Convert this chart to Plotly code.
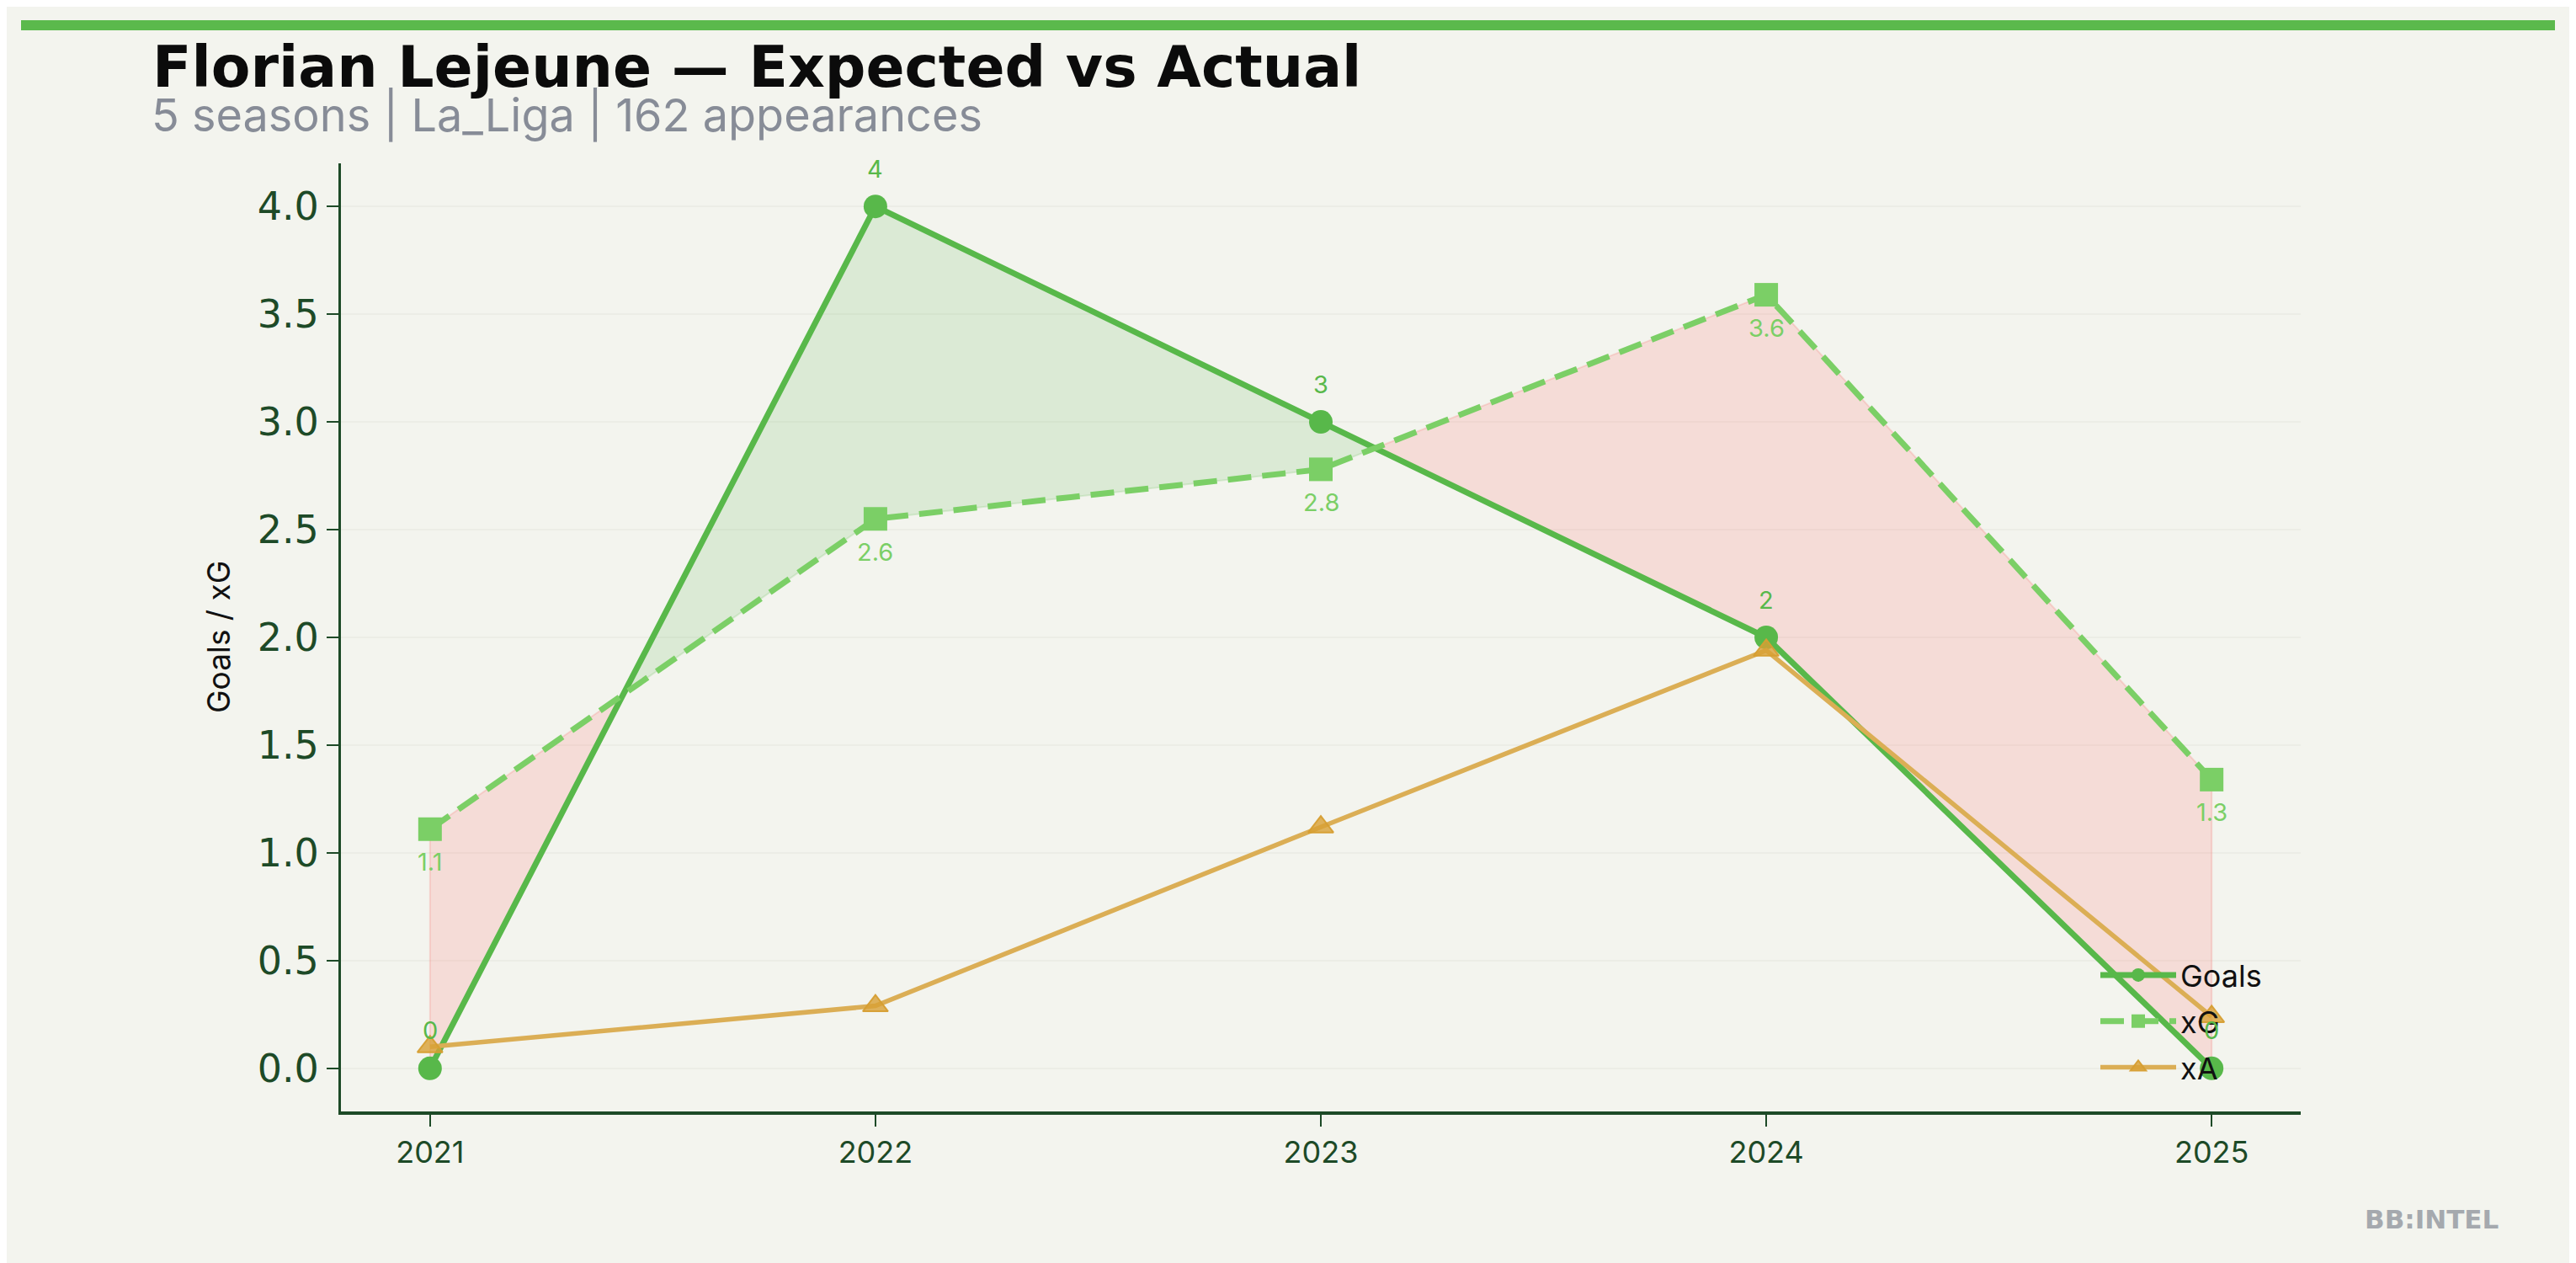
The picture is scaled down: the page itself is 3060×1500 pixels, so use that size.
import plotly.graph_objects as go

# ---- data ----
seasons = [2021, 2022, 2023, 2024, 2025]
goals = [0, 4, 3, 2, 0]
xg = [1.11, 2.55, 2.78, 3.59, 1.34]
xa = [0.10, 0.29, 1.12, 1.94, 0.24]
goal_labels = ["0", "4", "3", "2", "0"]
xg_labels = ["1.1", "2.6", "2.8", "3.6", "1.3"]

title = "Florian Lejeune — Expected vs Actual"
subtitle = "5 seasons | La_Liga | 162 appearances"
y_title = "Goals / xG"
watermark = "BB:INTEL"

# ---- style ----
OFF = 8  # page body margin
W_FIG, H_FIG = 3060 - OFF, 1500 - OFF
PL, PR, PT, PB = 405, 2733, 194, 1320  # plot area in page pixels
L, T = PL - OFF, PT - OFF
R, B = W_FIG - (PR - OFF), H_FIG - (PB - OFF)
PW, PH = PR - PL, PB - PT
BG = "#f3f4ee"
C_GOALS = "#58b84a"
C_XG = "#7bcf66"
C_XA = "#dbae55"
AX = "#1d4a27"


def px_x(p):
    return (p - PL) / PW


def px_y(p):
    return (PB - p) / PH


# ---- fill-between regions (interpolated at crossings) ----
pts = []
for i in range(len(seasons)):
    pts.append((seasons[i], goals[i], xg[i]))
    if i < len(seasons) - 1:
        d0 = goals[i] - xg[i]
        d1 = goals[i + 1] - xg[i + 1]
        if d0 * d1 < 0:
            t = d0 / (d0 - d1)
            xc = seasons[i] + t * (seasons[i + 1] - seasons[i])
            yc = goals[i] + t * (goals[i + 1] - goals[i])
            pts.append((xc, yc, yc))

regions = []
for j in range(len(pts) - 1):
    dm = (pts[j][1] - pts[j][2]) + (pts[j + 1][1] - pts[j + 1][2])
    s = 1 if dm > 0 else -1
    if regions and regions[-1][0] == s:
        regions[-1][1].append(j + 1)
    else:
        regions.append((s, [j, j + 1]))

fig = go.Figure()
for s, idx in regions:
    xs = [pts[k][0] for k in idx]
    ug = [pts[k][1] for k in idx]
    le = [pts[k][2] for k in idx]
    fill = "rgba(88,184,74,0.15)" if s > 0 else "rgba(255,110,105,0.175)"
    edge = "rgba(88,184,74,0.17)" if s > 0 else "rgba(245,110,105,0.22)"
    fig.add_trace(go.Scatter(
        x=xs + xs[::-1] + [xs[0]], y=ug + le[::-1] + [ug[0]],
        mode="lines", fill="toself", fillcolor=fill,
        line=dict(color=edge, width=2), hoverinfo="skip", showlegend=False))

fig.add_trace(go.Scatter(
    x=seasons, y=goals, name="Goals", mode="lines+markers", legendgroup="g",
    line=dict(color=C_GOALS, width=7),
    marker=dict(symbol="circle", size=28, color=C_GOALS)))
fig.add_trace(go.Scatter(
    x=seasons, y=xg, name="xG", mode="lines+markers", legendgroup="x",
    line=dict(color=C_XG, width=7, dash="28px,13px"),
    marker=dict(symbol="square", size=28, color=C_XG)))
fig.add_trace(go.Scatter(
    x=seasons, y=xa, name="xA", mode="lines+markers", legendgroup="a",
    line=dict(color=C_XA, width=5.5),
    marker=dict(symbol="triangle-up", size=26, color="rgba(216,160,52,0.8)",
                line=dict(color="rgba(214,158,50,0.95)", width=2))))

ann = []
for s_, v, t in zip(seasons, goals, goal_labels):
    ann.append(dict(x=s_, y=v, text=t, showarrow=False, yshift=45,
                    font=dict(family="Inter", size=29, color=C_GOALS)))
for s_, v, t in zip(seasons, xg, xg_labels):
    ann.append(dict(x=s_, y=v, text=t, showarrow=False, yshift=-39,
                    font=dict(family="Inter", size=29, color=C_XG)))

ann.append(dict(xref="paper", yref="paper", x=px_x(179), y=px_y(79),
                xanchor="left", yanchor="middle", text="<b>" + title + "</b>",
                showarrow=False,
                font=dict(family="DejaVu Sans", size=68, color="#0b0b0b")))
ann.append(dict(xref="paper", yref="paper", x=px_x(178), y=px_y(137),
                xanchor="left", yanchor="middle", text=subtitle, showarrow=False,
                font=dict(family="Inter", size=54, color="#878c97")))
ann.append(dict(xref="paper", yref="paper", x=px_x(259), y=px_y(757),
                xanchor="center", yanchor="middle", text=y_title, textangle=-90,
                showarrow=False, font=dict(family="Inter", size=37, color="#111111")))
ann.append(dict(xref="paper", yref="paper", x=px_x(2888), y=px_y(1448),
                xanchor="center", yanchor="middle", text="<b>" + watermark + "</b>",
                showarrow=False, font=dict(family="DejaVu Sans", size=31, color="#a5a9ae")))

fig.update_layout(
    width=W_FIG, height=H_FIG,
    paper_bgcolor=BG, plot_bgcolor=BG,
    margin=dict(l=L, r=R, t=T, b=B, pad=0),
    annotations=ann,
    shapes=[dict(type="rect", xref="paper", yref="paper",
                 x0=px_x(25), x1=px_x(3035), y0=px_y(36), y1=px_y(24),
                 fillcolor="#5bb94c", line=dict(width=0))],
    legend=dict(x=px_x(2490), y=px_y(1128), xanchor="left", yanchor="top",
                bgcolor="rgba(0,0,0,0)", font=dict(family="Inter", size=36, color="#111111"),
                itemwidth=90, tracegroupgap=5),
    xaxis=dict(range=[2020.8, 2025.2], tickvals=seasons, ticktext=[str(s) for s in seasons],
               showgrid=False, zeroline=False, showline=True, linecolor=AX, linewidth=4,
               ticks="outside", ticklen=14, tickwidth=2, tickcolor=AX,
               tickfont=dict(family="Inter", size=36, color=AX)),
    yaxis=dict(range=[-0.2, 4.2], tick0=0, dtick=0.5, tickformat=".1f",
               showgrid=True, gridcolor="#ecede6", gridwidth=2, zeroline=False,
               showline=True, linecolor=AX, linewidth=3,
               ticks="outside", ticklen=14, tickwidth=2, tickcolor=AX,
               tickfont=dict(family="DejaVu Sans", size=46, color=AX)),
)

fig.write_html("out.html")
